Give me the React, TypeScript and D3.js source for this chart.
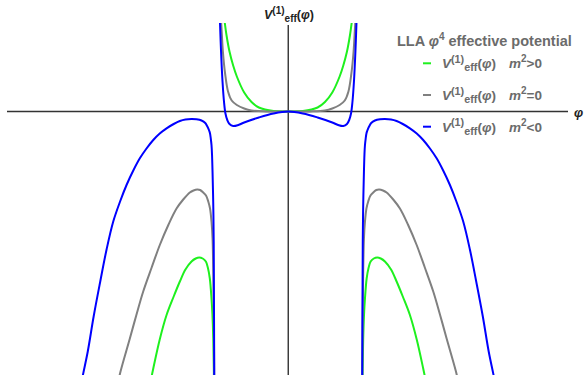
import React, { useEffect, useRef } from "react";
import * as d3 from "d3";

const W = 584;
const H = 375;

// [phi, V], right half only (phi >= 0).
// The plot is mirror-symmetric about phi = 0, the left half reuses these.
const greenInner = [
  [0, 0], [0.2, 0.004], [0.4, 0.04], [0.5, 0.095], [0.6, 0.19], [0.7, 0.35],
  [0.75, 0.46], [0.8, 0.6], [0.84, 0.76], [0.87, 0.92], [0.9, 1.1],
];
const grayInner = [
  [0, 0], [0.3, 0.001], [0.5, 0.01], [0.6, 0.03], [0.7, 0.065], [0.77, 0.11],
  [0.82, 0.2], [0.86, 0.38], [0.89, 0.6], [0.91, 0.85], [0.93, 1.1],
];
const blueInner = [
  [0, 0], [0.2, -0.02], [0.4, -0.06], [0.6, -0.11], [0.68, -0.135], [0.75, -0.145],
  [0.8, -0.125], [0.83, -0.085], [0.855, -0.02], [0.875, 0.1], [0.895, 0.3],
  [0.915, 0.6], [0.93, 0.9], [0.945, 1.25],
];

const greenOuter = [
  [1.006, -3.2], [1.013, -2.6], [1.021, -2.27], [1.033, -2.02], [1.045, -1.87],
  [1.068, -1.67], [1.095, -1.56], [1.122, -1.5], [1.165, -1.47], [1.212, -1.46],
  [1.26, -1.47], [1.317, -1.5], [1.4, -1.58], [1.476, -1.7], [1.56, -1.85],
  [1.657, -2.035], [1.75, -2.28], [1.838, -2.57], [1.88, -2.72],
];
const grayOuter = [
  [1.005, -3.0], [1.012, -2.2], [1.021, -1.6], [1.031, -1.27], [1.045, -1.1],
  [1.065, -0.97], [1.089, -0.9], [1.12, -0.84], [1.158, -0.81], [1.2, -0.785],
  [1.239, -0.78], [1.29, -0.79], [1.34, -0.81], [1.43, -0.88], [1.521, -0.97],
  [1.63, -1.13], [1.749, -1.335], [1.86, -1.56], [1.975, -1.8], [2.07, -2.04],
  [2.157, -2.27], [2.284, -2.6], [2.32, -2.72],
];
const blueOuter = [
  [1.002, -4.0], [1.008, -2.6], [1.015, -1.3], [1.021, -0.935], [1.031, -0.6],
  [1.038, -0.43], [1.045, -0.335], [1.055, -0.27], [1.065, -0.22], [1.075, -0.195],
  [1.089, -0.168], [1.105, -0.145], [1.13, -0.115], [1.181, -0.09],
  [1.25, -0.078], [1.317, -0.075], [1.4, -0.08], [1.476, -0.095], [1.56, -0.125],
  [1.657, -0.168], [1.75, -0.22], [1.838, -0.285], [1.93, -0.37], [2.021, -0.468],
  [2.11, -0.59], [2.202, -0.735], [2.29, -0.9], [2.383, -1.1], [2.474, -1.38],
  [2.56, -1.7], [2.65, -2.05], [2.73, -2.4], [2.8, -2.65], [2.83, -2.78],
];

const seriesNames = ["m2>0", "m2=0", "m2<0"];
const seriesSigns = [">0", "=0", "<0"];
const seriesColors = ["#1ef01e", "#808080", "#0000ff"];
const innerData = [greenInner, grayInner, blueInner];
const outerData = [greenOuter, grayOuter, blueOuter];

const FONT = "'Liberation Sans', Arial, Helvetica, sans-serif";

function vEffLabel(text: any, size: number) {
  const small = size * 0.8;
  text.append("tspan").attr("font-style", "italic").text("V");
  text.append("tspan").attr("font-size", small).attr("dy", -size * 0.4).text("(1)");
  text.append("tspan").attr("font-size", small).attr("dy", size * 0.62).text("eff");
  text.append("tspan").attr("dy", -size * 0.22).text("(");
  text.append("tspan").attr("font-style", "italic").text("\u03c6");
  text.append("tspan").text(")");
}

const App = () => {
  const ref = useRef<SVGSVGElement | null>(null);

  useEffect(() => {
    document.body.style.margin = "0";
    if (!ref.current) return;
    const svg = d3.select(ref.current);
    svg.selectAll("*").remove();

    const x = d3.scaleLinear().domain([-3.83, 3.81]).range([7, 568]);
    const y = d3.scaleLinear().domain([-2.635, 0.885]).range([375, 23]);

    svg
      .append("defs")
      .append("clipPath")
      .attr("id", "plot-clip")
      .append("rect")
      .attr("x", 7)
      .attr("y", 23)
      .attr("width", 561)
      .attr("height", 352);

    // axes through the origin
    svg
      .append("line")
      .attr("x1", x(-3.83))
      .attr("x2", x(3.81))
      .attr("y1", y(0))
      .attr("y2", y(0))
      .attr("stroke", "#333")
      .attr("stroke-width", 1.4);
    svg
      .append("line")
      .attr("x1", x(0))
      .attr("x2", x(0))
      .attr("y1", 25)
      .attr("y2", H)
      .attr("stroke", "#222")
      .attr("stroke-width", 1.3);

    const line = d3
      .line<number[]>()
      .x((d) => x(d[0]))
      .y((d) => y(d[1]))
      .curve(d3.curveCatmullRom.alpha(0.5));

    const curves = svg.append("g").attr("clip-path", "url(#plot-clip)");

    innerData.forEach((pts, i) => {
      const full = pts
        .slice(1)
        .map((d) => [-d[0], d[1]])
        .reverse()
        .concat(pts);
      curves
        .append("path")
        .attr("d", line(full))
        .attr("fill", "none")
        .attr("stroke", seriesColors[i])
        .attr("stroke-width", 2);
    });

    outerData.forEach((pts, i) => {
      const left = pts.map((d) => [-d[0], d[1]]).reverse();
      [pts, left].forEach((p) => {
        curves
          .append("path")
          .attr("d", line(p))
          .attr("fill", "none")
          .attr("stroke", seriesColors[i])
          .attr("stroke-width", 2);
      });
    });

    // axis labels
    const yLab = svg
      .append("text")
      .attr("x", 264)
      .attr("y", 19)
      .attr("font-family", FONT)
      .attr("font-weight", "bold")
      .attr("font-size", 12.5)
      .attr("fill", "#222");
    vEffLabel(yLab, 12.5);

    svg
      .append("text")
      .attr("x", 574)
      .attr("y", 117)
      .attr("font-family", FONT)
      .attr("font-weight", "bold")
      .attr("font-style", "italic")
      .attr("font-size", 13)
      .attr("fill", "#222")
      .text("\u03c6");

    // legend
    const legend = svg.append("g").attr("font-family", FONT).attr("font-weight", "bold");
    const title = legend
      .append("text")
      .attr("x", 397)
      .attr("y", 46)
      .attr("font-size", 14.5)
      .attr("fill", "#6b6b6b");
    title.append("tspan").text("LLA ");
    title.append("tspan").attr("font-style", "italic").text("\u03c6");
    title.append("tspan").attr("font-size", 10).attr("dy", -6).text("4");
    title.append("tspan").attr("dy", 6).text(" effective potential");

    seriesNames.forEach((name, i) => {
      const yy = 68.3 + i * 31.7;
      legend
        .append("line")
        .attr("x1", 423)
        .attr("x2", 431)
        .attr("y1", yy - 5)
        .attr("y2", yy - 5)
        .attr("stroke", seriesColors[i])
        .attr("stroke-width", 2);
      const t = legend
        .append("text")
        .attr("x", 442)
        .attr("y", yy)
        .attr("font-size", 13.5)
        .attr("fill", "#6b6b6b")
        .attr("data-name", name);
      vEffLabel(t, 13.5);
      t.append("tspan").attr("dx", 13).attr("font-style", "italic").text("m");
      t.append("tspan").attr("font-size", 10).attr("dy", -6).text("2");
      t.append("tspan").attr("dy", 6).text(seriesSigns[i]);
    });
  }, []);

  return <svg ref={ref} width={W} height={H} style={{ display: "block", background: "#fff" }} />;
};

export default App;
